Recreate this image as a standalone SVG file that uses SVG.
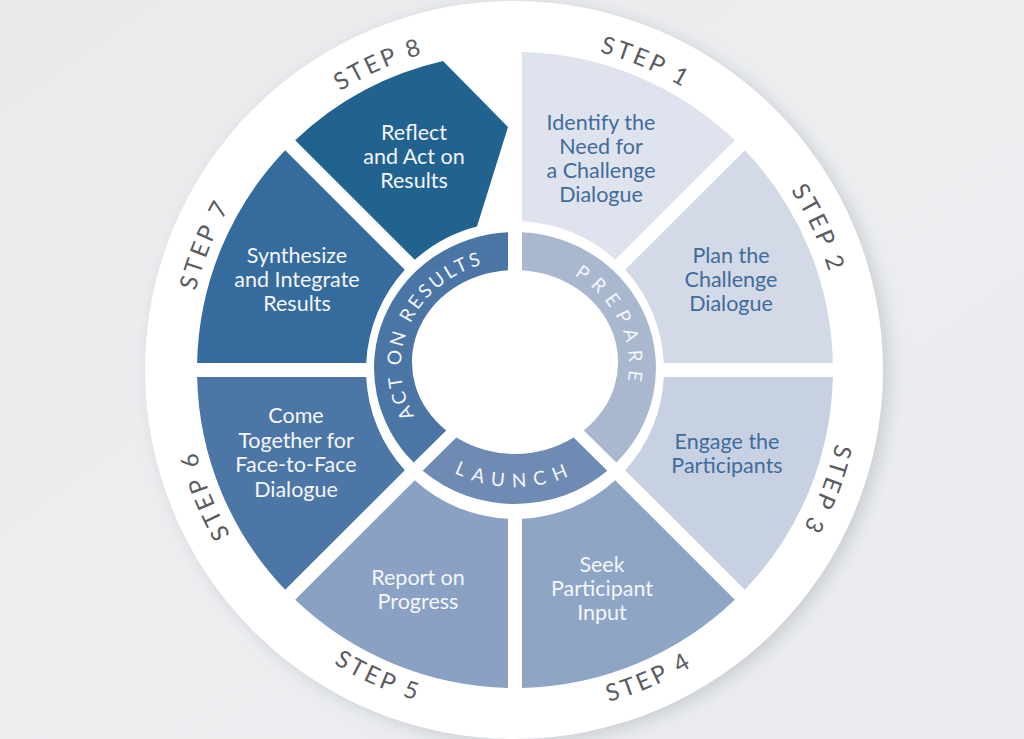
<svg xmlns="http://www.w3.org/2000/svg" width="1024" height="739" viewBox="0 0 1024 739">
  <defs>
    <linearGradient id="bg" x1="0" y1="0" x2="1" y2="1">
      <stop offset="0" stop-color="#e8eaec"/>
      <stop offset="0.5" stop-color="#eceef0"/>
      <stop offset="1" stop-color="#e9ebee"/>
    </linearGradient>
    <filter id="shadow" x="-20%" y="-20%" width="140%" height="140%">
      <feGaussianBlur stdDeviation="9"/>
    </filter>
    <path id="p-s1" d="M 391.8,65 A 329 329 0 0 1 820,246.8"/>
    <path id="p-s2" d="M 627.5,60.8 A 329 329 0 0 1 824.2,482.5"/>
    <path id="p-s3" d="M 815.5,236.2 A 329 329 0 0 1 648.8,670.5"/>
    <path id="p-s4" d="M 388.6,691 A 345 345 0 0 0 836,496.4"/>
    <path id="p-s5" d="M 192.9,493.6 A 345 345 0 0 0 638.6,692.1"/>
    <path id="p-s6" d="M 386.5,672.8 A 329 329 0 0 1 212.2,241.5"/>
    <path id="p-s7" d="M 212.2,498.5 A 329 329 0 0 1 386.5,67.2"/>
    <path id="p-s8" d="M 207.8,252.1 A 329 329 0 0 1 632.9,62.8"/>
    <path id="p-act" d="M 449.6,452.8 A 114 106 0 0 1 534.8,261.6"/>
    <path id="p-prep" d="M 495.2,261.6 A 114 106 0 0 1 580.4,452.8"/>
    <path id="p-launch" d="M 409.3,435.4 A 129 121 0 0 0 620.7,435.4"/>
  </defs>
  <style>
    .seg-text { font-family: Lato, "Open Sans", "Liberation Sans", sans-serif; font-size: 21.5px; text-anchor: middle; }
    .dark { fill: #3f6c9b; }
    .light { fill: #f4f6fa; }
    .step-label { font-family: Lato, "Open Sans", "Liberation Sans", sans-serif; font-size: 24px; fill: #5a5c60; letter-spacing: 3px; text-anchor: middle; }
    .ring-text { font-family: Lato, "Open Sans", "Liberation Sans", sans-serif; font-size: 19px; fill: #f4f6fa; text-anchor: middle; }
  </style>

  <rect x="0" y="0" width="1024" height="739" fill="url(#bg)"/>
  <circle cx="520" cy="374" r="368" fill="#a9aeb6" opacity="0.55" filter="url(#shadow)"/>
  <circle cx="514" cy="370" r="369" fill="#ffffff"/>

  <g id="step1">
    <path d="M 522,52.1 A 318 318 0 0 1 734.8,140.2 L 615.2,259.8 A 149 149 0 0 0 522,221.2 Z" fill="#dfe3ee"/>
    <text class="seg-text dark"><tspan x="601" y="130">Identify the</tspan><tspan x="601" y="154">Need for</tspan><tspan x="601" y="178">a Challenge</tspan><tspan x="601" y="202">Dialogue</tspan></text>
    <text class="step-label"><textPath href="#p-s1" startOffset="50%">STEP 1</textPath></text>
  </g>

  <g id="step2">
    <path d="M 744.8,150.2 A 318 318 0 0 1 832.9,363 L 663.8,363 A 149 149 0 0 0 625.2,269.8 Z" fill="#d3d9e6"/>
    <text class="seg-text dark"><tspan x="731" y="263">Plan the</tspan><tspan x="731" y="287">Challenge</tspan><tspan x="731" y="311">Dialogue</tspan></text>
    <text class="step-label"><textPath href="#p-s2" startOffset="50%">STEP 2</textPath></text>
  </g>

  <g id="step3">
    <path d="M 663.8,377 L 832.9,377 A 318 318 0 0 1 744.8,589.8 L 625.2,470.2 A 149 149 0 0 0 663.8,377 Z" fill="#c8d1e2"/>
    <text class="seg-text dark"><tspan x="727" y="449">Engage the</tspan><tspan x="727" y="473">Participants</tspan></text>
    <text class="step-label"><textPath href="#p-s3" startOffset="50%">STEP 3</textPath></text>
  </g>

  <g id="step4">
    <path d="M 734.8,599.8 A 318 318 0 0 1 522,687.9 L 522,518.8 A 149 149 0 0 0 615.2,480.2 Z" fill="#8ea5c5"/>
    <text class="seg-text light"><tspan x="602" y="572">Seek</tspan><tspan x="602" y="596">Participant</tspan><tspan x="602" y="620">Input</tspan></text>
    <text class="step-label"><textPath href="#p-s4" startOffset="50%">STEP 4</textPath></text>
  </g>

  <g id="step5">
    <path d="M 508,687.9 A 318 318 0 0 1 295.2,599.8 L 414.8,480.2 A 149 149 0 0 0 508,518.8 Z" fill="#8aa1c3"/>
    <text class="seg-text light"><tspan x="418" y="585">Report on</tspan><tspan x="418" y="609">Progress</tspan></text>
    <text class="step-label"><textPath href="#p-s5" startOffset="50%">STEP 5</textPath></text>
  </g>

  <g id="step6">
    <path d="M 285.2,589.8 A 318 318 0 0 1 197.1,377 L 366.2,377 A 149 149 0 0 0 404.8,470.2 Z" fill="#4b76a6"/>
    <text class="seg-text light"><tspan x="296" y="423">Come</tspan><tspan x="296" y="448">Together for</tspan><tspan x="296" y="472">Face-to-Face</tspan><tspan x="296" y="497">Dialogue</tspan></text>
    <text class="step-label"><textPath href="#p-s6" startOffset="50%">STEP 6</textPath></text>
  </g>

  <g id="step7">
    <path d="M 366.2,363 L 197.1,363 A 318 318 0 0 1 285.2,150.2 L 404.8,269.8 A 149 149 0 0 0 366.2,363 Z" fill="#366b9d"/>
    <text class="seg-text light"><tspan x="297" y="263">Synthesize</tspan><tspan x="297" y="287">and Integrate</tspan><tspan x="297" y="311">Results</tspan></text>
    <text class="step-label"><textPath href="#p-s7" startOffset="50%">STEP 7</textPath></text>
  </g>

  <g id="step8">
    <path d="M 295.2,140.2 A 318 318 0 0 1 443,61 L 508,127 L 477,226.5 A 149 149 0 0 0 414.8,259.8 Z" fill="#22628f"/>
    <text class="seg-text light"><tspan x="414" y="140">Reflect</tspan><tspan x="414" y="164">and Act on</tspan><tspan x="414" y="188">Results</tspan></text>
    <text class="step-label"><textPath href="#p-s8" startOffset="50%">STEP 8</textPath></text>
  </g>

  <g id="phase-prepare">
    <path d="M 522,232.2 A 141 136 0 0 1 616.3,462.6 L 583.8,430.5 A 103 92 0 0 0 522,270.2 Z" fill="#a9b7cf"/>
    <text class="ring-text" letter-spacing="7.5"><textPath href="#p-prep" startOffset="50%">PREPARE</textPath></text>
  </g>

  <g id="phase-launch">
    <path d="M 607.3,470.8 A 141 136 0 0 1 422.7,470.8 L 456.4,437.6 A 103 92 0 0 0 573.6,437.6 Z" fill="#6f8ab3"/>
    <text class="ring-text" letter-spacing="8"><textPath href="#p-launch" startOffset="50%">LAUNCH</textPath></text>
  </g>

  <g id="phase-act">
    <path d="M 413.7,462.6 A 141 136 0 0 1 508,232.2 L 508,270.2 A 103 92 0 0 0 446.2,430.5 Z" fill="#4a75a5"/>
    <text class="ring-text" letter-spacing="3"><textPath href="#p-act" startOffset="50%">ACT ON RESULTS</textPath></text>
  </g>
</svg>
